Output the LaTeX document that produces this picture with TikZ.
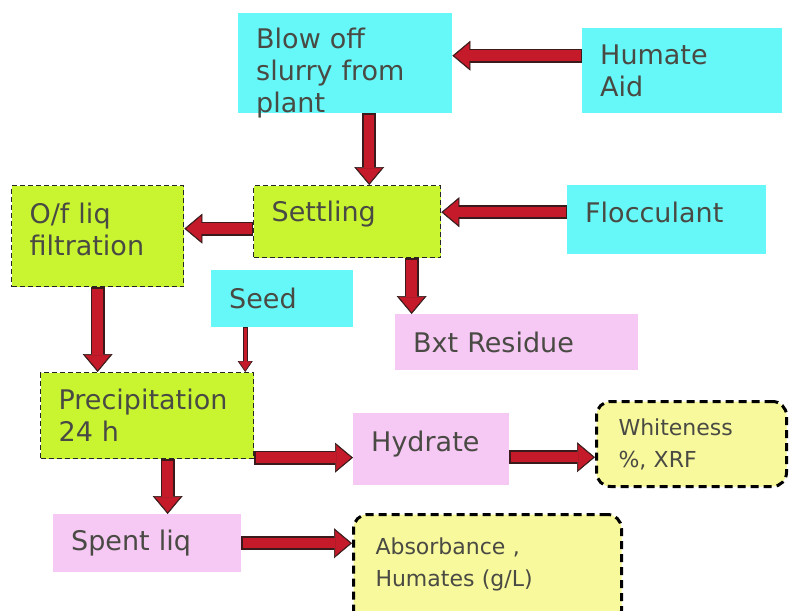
\documentclass[tikz,border=0pt]{standalone}
\usepackage{fontspec}
\setmainfont{DejaVu Sans}
\usetikzlibrary{arrows.meta}

\definecolor{skyfill}{HTML}{66F8F8}
\definecolor{limefill}{HTML}{C8F530}
\definecolor{pinkfill}{HTML}{F6C8F4}
\definecolor{creamfill}{HTML}{F8F89C}
\definecolor{arrowred}{HTML}{C41A2A}
\definecolor{arrowedge}{HTML}{3A1A1A}
\definecolor{textgray}{HTML}{4A4A44}

\tikzset{
  box/.style={anchor=north west, align=left, inner xsep=18pt, inner ysep=0pt,
    text=textgray, font=\fontsize{27}{32}\selectfont},
  feed/.style={box, fill=skyfill},
  process/.style={box, fill=limefill, draw=black!85, dash pattern=on 5pt off 3pt, line width=1.3pt},
  product/.style={box, fill=pinkfill},
  test/.style={box, inner xsep=22pt, fill=creamfill, draw=black, line width=3pt,
    dash pattern=on 8pt off 5pt, rounded corners=14pt, font=\fontsize{22}{32}\selectfont},
  flowback/.style={line width=14pt, arrowedge, -{Triangle[length=18pt,width=30pt,line width=0.5pt]}},
  flowfront/.style={line width=10.5pt, arrowred, shorten >=2pt, shorten <=1.5pt,
    -{Triangle[length=15pt,width=25pt,line width=0.5pt]}},
  seedback/.style={line width=5pt, arrowedge, -{Triangle[length=11pt,width=15pt,line width=0.5pt]}},
  seedfront/.style={line width=2.6pt, arrowred, shorten >=1.5pt, shorten <=1pt,
    -{Triangle[length=9pt,width=12pt,line width=0.5pt]}},
}
\newcommand{\flow}[3][flow]{%
  \draw[#1back] #2 -- #3;
  \draw[#1front] #2 -- #3;}

\begin{document}
\begin{tikzpicture}[x=1pt, y=-1pt]
\useasboundingbox (0,0) rectangle (789,610);

% inputs
\node[feed, text width=178pt, minimum height=100pt, text height=35pt, text depth=65pt] (blowoff) at (238,13) {Blow off\\slurry from\\plant};
\node[feed, text width=164pt, minimum height=85pt] (humate) at (582,28) {Humate\\Aid};
\node[feed, text width=163pt, minimum height=69pt, text depth=14pt] (flocculant) at (567,185) {Flocculant};
\node[feed, text width=106pt, minimum height=57pt] (seed) at (211,270) {Seed};

% process steps
\node[process, text width=151pt, minimum height=72pt, text depth=20pt] (settling) at (253,185) {Settling};
\node[process, text width=136pt, minimum height=101pt, text depth=46pt] (filtration) at (11,185) {O/f liq\\filtration};
\node[process, text width=177pt, minimum height=86pt] (precip) at (40,372) {Precipitation\\24 h};

% products
\node[product, text width=207pt, minimum height=56pt] (residue) at (395,314) {Bxt Residue};
\node[product, text width=120pt, minimum height=72pt, text depth=16pt] (hydrate) at (353,413) {Hydrate};
\node[product, text width=152pt, minimum height=58pt] (spent) at (53,514) {Spent liq};

% analyses
\node[test, text width=146pt, minimum height=85pt] (whiteness) at (595,400) {Whiteness\\\%, XRF};
\node[test, text width=224pt, minimum height=110pt, text depth=47pt] (absorbance) at (352,513) {Absorbance ,\\Humates (g/L)};

% flows
\flow{([yshift=15pt]humate.west)}{([yshift=15pt]humate.west -| blowoff.east)}
\flow{([xshift=24pt]blowoff.south)}{([xshift=24pt]blowoff.south |- settling.north)}
\flow{([yshift=7.5pt]flocculant.west)}{([yshift=7.5pt]flocculant.west -| settling.east)}
\flow{([yshift=-7pt]settling.west)}{([yshift=-7pt]settling.west -| filtration.east)}
\flow{([xshift=64.5pt]settling.south)}{([xshift=64.5pt]settling.south |- residue.north)}
\flow{(filtration.south)}{(filtration.south |- precip.north)}
\flow[seed]{([xshift=-37pt]seed.south)}{([xshift=-37pt]seed.south |- precip.north)}
\flow{([yshift=-42pt]precip.east)}{([yshift=-42pt]precip.east -| hydrate.west)}
\flow{([yshift=-8pt]hydrate.east)}{([yshift=-8pt]hydrate.east -| whiteness.west)}
\flow{([xshift=20.5pt]precip.south)}{([xshift=20.5pt]precip.south |- spent.north)}
\flow{(spent.east)}{(spent.east -| absorbance.west)}

\end{tikzpicture}
\end{document}
